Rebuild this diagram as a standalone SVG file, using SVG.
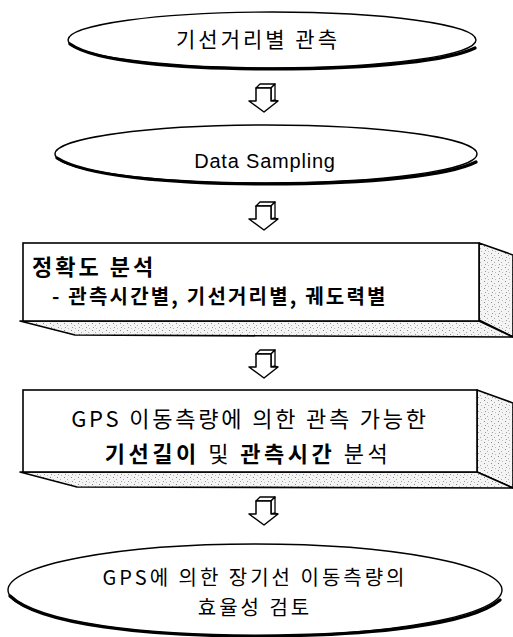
<svg xmlns="http://www.w3.org/2000/svg" width="513" height="637" viewBox="0 0 513 637">
<defs>
<pattern id="stip" width="7" height="7" patternUnits="userSpaceOnUse">
<rect width="7" height="7" fill="#f4f4f4"/>
<rect x="1" y="1" width="1" height="1" fill="#888"/>
<rect x="4" y="3" width="1" height="1" fill="#aaa"/>
<rect x="2" y="5" width="1" height="1" fill="#999"/>
<rect x="5" y="6" width="1" height="1" fill="#bbb"/>
</pattern>
<g id="arrow">
<polygon points="-7,-12 -3,-16 12,-16 8,-12" fill="#fff" stroke="#000" stroke-width="1.3" stroke-linejoin="round"/>
<polygon points="8,-12 12,-16 12,0 8,1" fill="#fff" stroke="#000" stroke-width="1.3" stroke-linejoin="round"/>
<polygon points="-7,-12 8,-12 8,1 15,1 1,12 -14,1 -7,1" fill="#fff" stroke="#000" stroke-width="1.5" stroke-linejoin="round"/>
<polyline points="12,0 15,1" fill="none" stroke="#000" stroke-width="1.3"/>
</g>
</defs>
<style>
.t{font-family:"Noto Sans CJK KR","Liberation Sans",sans-serif;fill:#000}
.b{font-weight:bold}
.th{fill:#fff;stroke:#000;stroke-width:1.4}
.sh{fill:none;stroke:#000;stroke-width:3.2;stroke-linecap:round}
.fr{fill:#fff;stroke:#000;stroke-width:1.6}
.sd{fill:url(#stip);stroke:#000;stroke-width:1.6;stroke-linejoin:round}
</style>
<rect width="513" height="637" fill="#fff"/>

<g id="connectors">
<use href="#arrow" x="263" y="100"/>
<use href="#arrow" x="263" y="218"/>
<use href="#arrow" x="263" y="366"/>
<use href="#arrow" x="263" y="513"/>
</g>

<g id="node1">
<ellipse class="th" cx="272" cy="40" rx="204" ry="28"/>
<path class="sh" d="M70,44 C95,62 180,69 272,69 C380,69 450,60 475,48"/>
<text class="t" x="258" y="47" font-size="21" text-anchor="middle" letter-spacing="3">기선거리별 관측</text>
</g>

<g id="node2">
<ellipse class="th" cx="266" cy="154" rx="211" ry="29"/>
<path class="sh" d="M57,158 C85,176 170,184 266,184 C375,184 450,175 476,162"/>
<text x="265" y="168" font-size="20" text-anchor="middle" letter-spacing="0.8" style="font-family:'Liberation Sans',sans-serif">Data Sampling</text>
</g>

<g id="node3">
<polygon class="sd" points="479,243 513,255 513,337 479,320"/>
<polygon class="sd" points="20,321 479,321 513,337 75,335"/>
<rect class="fr" x="23" y="243" width="456" height="78"/>
<text class="t b" x="32" y="275" font-size="22" letter-spacing="3">정확도 분석</text>
<text class="t b" x="52" y="304" font-size="20" letter-spacing="2.2">- 관측시간별, 기선거리별, 궤도력별</text>
</g>

<g id="node4">
<polygon class="sd" points="477,390 513,403 513,488 477,472"/>
<polygon class="sd" points="20,472 477,472 513,488 77,487"/>
<rect class="fr" x="23" y="390" width="454" height="82"/>
<text class="t" x="250" y="427" font-size="22" text-anchor="middle" letter-spacing="2.8">GPS 이동측량에 의한 관측 가능한</text>
<text class="t" x="248" y="462" font-size="22" text-anchor="middle" letter-spacing="3.5"><tspan class="b">기선길이</tspan> 및 <tspan class="b">관측시간</tspan> 분석</text>
</g>

<g id="node5">
<ellipse class="th" cx="255" cy="590" rx="247" ry="46"/>
<path class="sh" d="M10,596 C40,625 150,636 255,636 C370,636 470,625 500,600"/>
<text class="t" x="255" y="585" font-size="20" text-anchor="middle" letter-spacing="3">GPS에 의한 장기선 이동측량의</text>
<text class="t" x="255" y="615" font-size="20" text-anchor="middle" letter-spacing="3">효율성 검토</text>
</g>
</svg>
